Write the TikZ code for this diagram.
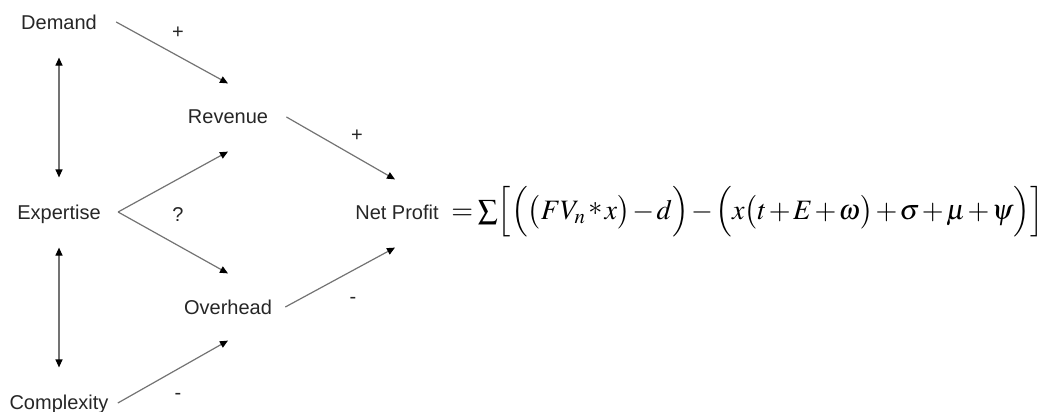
\documentclass[tikz,border=0pt]{standalone}
\usepackage{amsmath}
\usepackage{graphicx}
\usepackage{mathptmx}
\usepackage[no-math]{fontspec}
\setmainfont{Liberation Sans}
\usepackage{tikz}
\usetikzlibrary{arrows.meta,positioning}

\begin{document}
\begin{tikzpicture}[x=0.5pt, y=-0.5pt, >={Triangle[length=4pt, width=3.5pt, black]},
  box/.style={inner sep=0pt, text height=7.2pt, text depth=0pt, font=\fontsize{10}{12}\selectfont,
    text=black!85},
  sign/.style={inner sep=0pt, font=\fontsize{10}{12}\selectfont, text=black!85},
  arr/.style={->, draw=black!55, line width=0.6pt}]
  \useasboundingbox (0,0) rectangle (1051,412);
  % factors
  \node[box] (dem) at (59,22) {Demand};
  \node[box] (rev) at (228,116) {Revenue};
  \node[box] (exp) at (59,212) {Expertise};
  \node[box] (ovh) at (228,307) {Overhead};
  \node[box] (cpx) at (59,402) {Complexity};
  \node[box] (np) at (397,212) {Net Profit};
  \node[anchor=west, inner sep=0pt, font=\fontsize{15}{18}\selectfont] (eq) at (451,212)
    {\resizebox{296pt}{!}{$\medmuskip=1.5mu \thickmuskip=3mu
     =\sum\Bigl[\Bigl(\bigl(FV_n \mathbin{\raisebox{2pt}{$*$}} x\bigr)-d\Bigr)-\Bigl(x\bigl(t+E+\omega\bigr)+\sigma+\mu+\psi\Bigr)\Bigr]$}};
  % influences
  \draw[arr] ([xshift=9.5pt]dem.east) -- ([yshift=12.5pt]rev.north);
  \draw[arr] ([xshift=9pt, yshift=-0.5pt]rev.east) -- ([xshift=-1pt, yshift=12.5pt]np.north);
  \draw[arr] ([xshift=8.5pt]exp.east) -- ([yshift=-14pt]rev.south);
  \draw[arr] ([xshift=8.5pt]exp.east) -- ([yshift=13pt]ovh.north);
  \draw[arr] ([xshift=6.5pt]ovh.east) -- ([xshift=-1pt, yshift=-14pt]np.south);
  \draw[arr] ([xshift=4.5pt, yshift=-0.5pt]cpx.east) -- ([yshift=-13pt]ovh.south);
  \draw[arr, <->] ([yshift=-14pt]dem.south) -- ([yshift=13.5pt]exp.north);
  \draw[arr, <->] ([yshift=-14pt]exp.south) -- ([yshift=13.5pt]cpx.north);
  % signs
  \node[sign] (s1) at (178,33) {+};
  \node[sign] (s2) at (357,136) {+};
  \node[sign] (s3) at (178,215) {?};
  \node[sign] (s4) at (353,300) {-};
  \node[sign] (s5) at (178,396) {-};
\end{tikzpicture}
\end{document}
